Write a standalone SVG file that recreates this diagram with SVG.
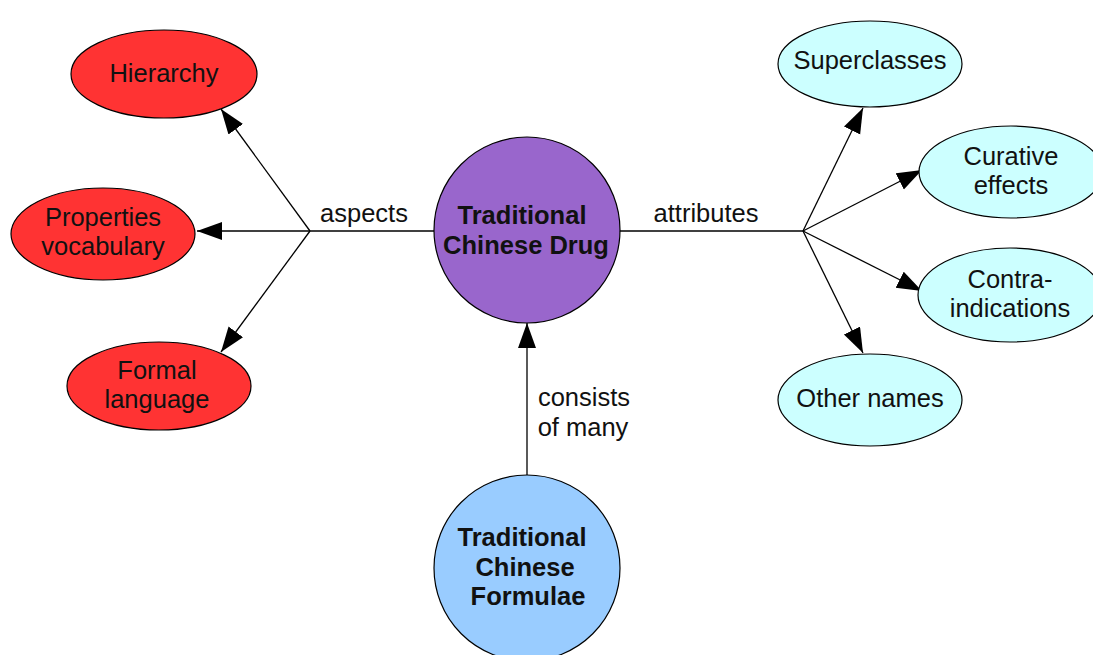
<svg xmlns="http://www.w3.org/2000/svg" width="1093" height="655" viewBox="0 0 1093 655">
<style>
text{font-family:"Liberation Sans",Arial,sans-serif;font-size:25.5px;fill:#111;text-anchor:middle}
.b{font-weight:bold}
.n{stroke:#000;stroke-width:1.2}
.red{fill:#ff3333}
.cyan{fill:#ccffff}
.c{stroke:#000;stroke-width:1.3;fill:none}
</style>
<defs>
<marker id="ah" markerUnits="userSpaceOnUse" markerWidth="26" markerHeight="20" refX="25" refY="9" orient="auto" viewBox="0 0 26 20">
<path d="M0,0 L25,9 L0,18 z" fill="#000"/>
</marker>
</defs>
<rect width="1093" height="655" fill="#fff"/>
<g id="connectors">
<line class="c" x1="434" y1="231" x2="310" y2="231"/>
<line class="c" x1="310" y1="231" x2="221" y2="109" marker-end="url(#ah)"/>
<line class="c" x1="310" y1="231" x2="197" y2="231" marker-end="url(#ah)"/>
<line class="c" x1="310" y1="231" x2="221" y2="352" marker-end="url(#ah)"/>
<line class="c" x1="619" y1="231" x2="803" y2="231"/>
<line class="c" x1="803" y1="231" x2="863" y2="108" marker-end="url(#ah)"/>
<line class="c" x1="803" y1="231" x2="922" y2="170" marker-end="url(#ah)"/>
<line class="c" x1="803" y1="231" x2="922" y2="291" marker-end="url(#ah)"/>
<line class="c" x1="803" y1="231" x2="863" y2="353" marker-end="url(#ah)"/>
<line class="c" x1="527" y1="475" x2="527" y2="323" marker-end="url(#ah)"/>
<text x="364" y="222">aspects</text>
<text x="706" y="222">attributes</text>
<text x="584" y="406">consists</text>
<text x="583" y="436">of many</text>
</g>
<g id="hierarchy">
<ellipse class="n red" cx="164" cy="74" rx="93" ry="44"/>
<text x="164" y="82">Hierarchy</text>
</g>
<g id="properties">
<ellipse class="n red" cx="103" cy="234" rx="92" ry="46"/>
<text x="103" y="226">Properties</text>
<text x="103" y="255">vocabulary</text>
</g>
<g id="formal">
<ellipse class="n red" cx="159" cy="386" rx="92" ry="44"/>
<text x="157" y="379">Formal</text>
<text x="157" y="408">language</text>
</g>
<g id="drug">
<circle class="n" fill="#9966cc" cx="527" cy="230" r="93"/>
<text class="b" x="522" y="224">Traditional</text>
<text class="b" x="526" y="254">Chinese Drug</text>
</g>
<g id="formulae">
<circle class="n" fill="#99ccff" cx="527" cy="568" r="93"/>
<text class="b" x="522" y="546">Traditional</text>
<text class="b" x="525" y="576">Chinese</text>
<text class="b" x="528" y="605">Formulae</text>
</g>
<g id="superclasses">
<ellipse class="n cyan" cx="870" cy="64" rx="92" ry="43"/>
<text x="870" y="69">Superclasses</text>
</g>
<g id="curative">
<ellipse class="n cyan" cx="1011" cy="172" rx="92" ry="46"/>
<text x="1011" y="165">Curative</text>
<text x="1011" y="194">effects</text>
</g>
<g id="contra">
<ellipse class="n cyan" cx="1010" cy="295" rx="92" ry="47"/>
<text x="1010" y="288">Contra-</text>
<text x="1010" y="317">indications</text>
</g>
<g id="othernames">
<ellipse class="n cyan" cx="870" cy="400" rx="92" ry="46"/>
<text x="870" y="407">Other names</text>
</g>
</svg>
